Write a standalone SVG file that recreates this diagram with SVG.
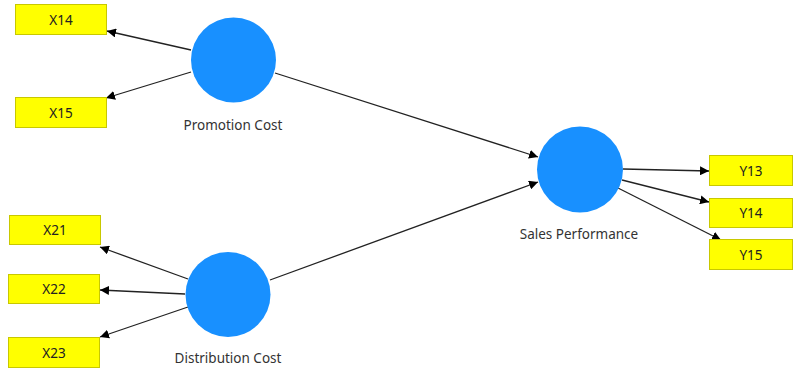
<svg xmlns="http://www.w3.org/2000/svg" width="793" height="368" viewBox="0 0 793 368">
  <style>
    .ind rect { fill: #ffff00; stroke: #c8c800; stroke-width: 1; }
    .ind text { font-family: "Noto Sans", "Open Sans", sans-serif; font-size: 13.5px; fill: #222; text-anchor: middle; }
    .lv circle { fill: #1890ff; }
    .lv text { font-family: "Noto Sans", "Open Sans", sans-serif; font-size: 13.5px; fill: #333; text-anchor: middle; }
    .edges line { stroke: #222; stroke-width: 1.3; marker-end: url(#arrow); }
  </style>
  <defs>
    <marker id="arrow" viewBox="0 0 10 10" refX="10" refY="5" markerWidth="9" markerHeight="9" markerUnits="userSpaceOnUse" orient="auto">
      <path d="M0,0 L10,5 L0,10 z" fill="#000"/>
    </marker>
  </defs>
  <rect width="793" height="368" fill="#fff"/>

  <g class="edges">
    <line x1="191" y1="50" x2="107" y2="31"/>
    <line x1="191" y1="72" x2="106" y2="98"/>
    <line x1="188" y1="279" x2="100" y2="247"/>
    <line x1="185" y1="294" x2="100" y2="290"/>
    <line x1="188" y1="307" x2="100" y2="337"/>
    <line x1="275" y1="73" x2="538" y2="157"/>
    <line x1="270" y1="280" x2="538" y2="182"/>
    <line x1="623" y1="169" x2="709" y2="171"/>
    <line x1="622" y1="180" x2="709" y2="202"/>
    <line x1="618" y1="188" x2="721" y2="240"/>
  </g>

  <g id="promotion-cost" class="lv">
    <circle cx="233.5" cy="60" r="42.5"/>
    <text x="233" y="130">Promotion Cost</text>
  </g>
  <g id="distribution-cost" class="lv">
    <circle cx="228" cy="294.5" r="42.5"/>
    <text x="228" y="363">Distribution Cost</text>
  </g>
  <g id="sales-performance" class="lv">
    <circle cx="580" cy="169.5" r="43"/>
    <text x="579" y="239">Sales Performance</text>
  </g>

  <g id="x14" class="ind"><rect x="15.5" y="4.5" width="91" height="30"/><text x="61" y="24.5">X14</text></g>
  <g id="x15" class="ind"><rect x="15.5" y="97.5" width="91" height="30"/><text x="61" y="117.5">X15</text></g>
  <g id="x21" class="ind"><rect x="9.5" y="215.5" width="91" height="29"/><text x="55" y="234.5">X21</text></g>
  <g id="x22" class="ind"><rect x="8.5" y="274.5" width="91" height="29"/><text x="54" y="293.5">X22</text></g>
  <g id="x23" class="ind"><rect x="8.5" y="337.5" width="91" height="30"/><text x="54" y="357.5">X23</text></g>
  <g id="y13" class="ind"><rect x="709.5" y="155.5" width="83" height="30"/><text x="751" y="175.5">Y13</text></g>
  <g id="y14" class="ind"><rect x="709.5" y="198.5" width="83" height="29"/><text x="751" y="217.5">Y14</text></g>
  <g id="y15" class="ind"><rect x="709.5" y="239.5" width="83" height="30"/><text x="751" y="259.5">Y15</text></g>
</svg>
